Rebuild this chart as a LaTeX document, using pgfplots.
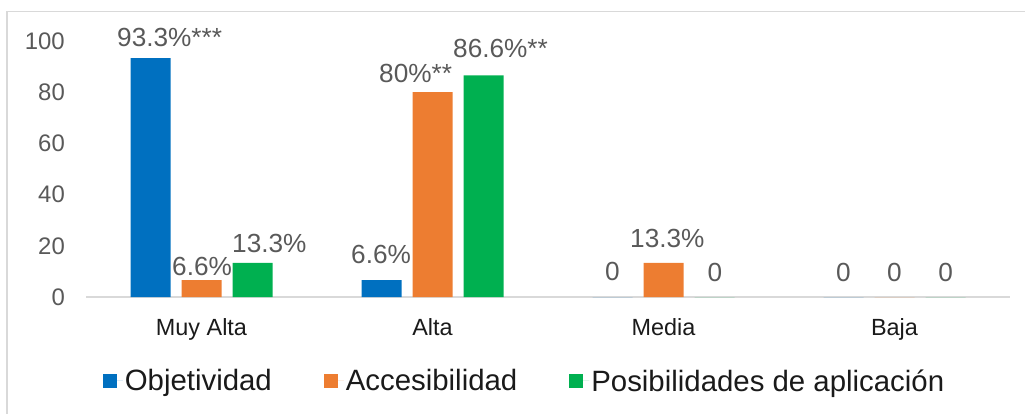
\documentclass[border=0pt]{standalone}
\usepackage{pgfplots}
\pgfplotsset{compat=1.18}
\usepackage{fontspec}
\setmainfont{Liberation Sans}
\definecolor{cBlue}{HTML}{0070C0}
\definecolor{cOrange}{HTML}{ED7D31}
\definecolor{cGreen}{HTML}{00B050}
\definecolor{cTick}{HTML}{595959}
\definecolor{cLine}{HTML}{D9D9D9}
\definecolor{cText}{HTML}{1A1A1A}
\tikzset{lbl/.style={font=\fontsize{26.3}{30}\selectfont, text=cTick, inner sep=0pt}}
\begin{document}
\begin{tikzpicture}
\useasboundingbox (0,0) rectangle (1025bp,-414bp);
\draw[cLine, line width=1.5bp] (7bp,-414bp) -- (7bp,-11.5bp) -- (1025bp,-11.5bp);
\begin{axis}[
  at={(86bp,-297bp)}, anchor=south west,
  scale only axis, width=924bp, height=256bp,
  xmin=-0.5, xmax=3.5, ymin=0, ymax=100,
  ybar=11bp, bar width=40bp,
  xtick={0,1,2,3}, xticklabels={Muy Alta, Alta, Media, Baja},
  ytick={0,20,...,100},
  major tick length=0pt,
  axis x line*=bottom, axis y line*=left,
  x axis line style={-, cLine, line width=1.5bp},
  y axis line style={draw=none},
  ticklabel style={inner sep=0pt},
  yticklabel style={font=\fontsize{24}{28}\selectfont, text=cTick, xshift=-21bp},
  xticklabel style={font=\fontsize{23.5}{27}\selectfont, text=cText, yshift=-21bp},
  /pgf/number format/assume math mode=true,
  legend columns=3,
  legend style={at={(0.4746,-0.328)}, anchor=center, draw=none, fill=none,
    font=\fontsize{29.5}{33}\selectfont, text=cText,
    /tikz/every even column/.append style={column sep=50bp}},
  legend image code/.code={\fill[#1] (0bp,-7bp) rectangle (14bp,7bp); \path (0bp,0bp) -- (20bp,0bp);},
  clip=false,
]
\addplot[fill=cBlue, draw=none] coordinates {(0,93.3) (1,6.6) (2,0) (3,0)};
\addplot[fill=cOrange, draw=none] coordinates {(0,6.6) (1,80) (2,13.3) (3,0)};
\addplot[fill=cGreen, draw=none] coordinates {(0,13.3) (1,86.6) (2,0) (3,0)};
\legend{Objetividad, Accesibilidad, Posibilidades de aplicación}
\node[lbl, anchor=base west] at (axis cs:-0.3658,97.66) {93.3\%***};
\node[lbl, anchor=base west] at (axis cs:-0.1277,8.59) {6.6\%};
\node[lbl, anchor=base west] at (axis cs:0.132,17.19) {13.3\%};
\node[lbl, anchor=base west] at (axis cs:0.6472,13.28) {6.6\%};
\node[lbl, anchor=base west] at (axis cs:0.7684,83.98) {80\%**};
\node[lbl, anchor=base west] at (axis cs:1.0887,93.75) {86.6\%**};
\node[lbl, anchor=base] at (axis cs:1.779,6.64) {0};
\node[lbl, anchor=base west] at (axis cs:1.855,19.53) {13.3\%};
\node[lbl, anchor=base] at (axis cs:2.223,6.25) {0};
\node[lbl, anchor=base] at (axis cs:2.779,6.25) {0};
\node[lbl, anchor=base] at (axis cs:3.0,6.25) {0};
\node[lbl, anchor=base] at (axis cs:3.221,6.25) {0};
\end{axis}
\end{tikzpicture}
\end{document}
